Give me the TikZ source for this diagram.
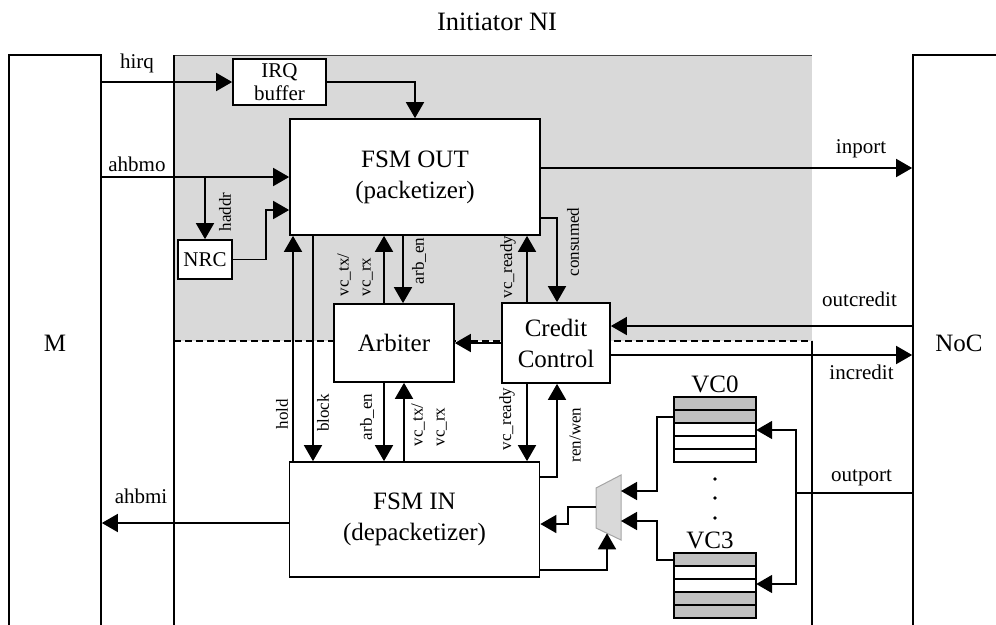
\documentclass[tikz,border=0pt]{standalone}
\usepackage{fontspec}
\setmainfont{Liberation Serif}
\usetikzlibrary{arrows.meta}
\definecolor{nigrey}{HTML}{D9D9D9}
\definecolor{vcgrey}{HTML}{C0C0C0}
\definecolor{muxedge}{HTML}{A6A6A6}
\newcommand\fbig{\fontsize{25}{31}\selectfont}
\newcommand\flab{\fontsize{21}{24}\selectfont}
\newcommand\frot{\fontsize{17}{22}\selectfont}
\begin{document}
\begin{tikzpicture}[x=1pt,y=-1pt,
  ln/.style={line width=1.7pt},
  arr/.style={ln,-{Triangle[length=16pt,width=18pt]}},
  blk/.style={draw,ln,fill=white,inner sep=0pt,align=center,font=\fbig},
  sblk/.style={draw,ln,fill=white,inner sep=0pt,align=center,font=\flab},
  lab/.style={inner sep=0pt,font=\flab,anchor=base},
  rlab/.style={inner sep=0pt,font=\frot,rotate=90,align=left},
]
\useasboundingbox (0,0) rectangle (996,624);
% NI region
\fill[nigrey] (174,55) rectangle (812,341);
\draw[line width=1pt,black!75] (174,55) -- (812,55);
\draw[ln] (174,55) -- (174,640);
\draw[ln] (812,341) -- (812,640);
\draw[ln,dash pattern=on 7pt off 4pt] (174,341) -- (812,341);

\node[lab,font=\fontsize{26.5}{31}\selectfont] (title) at (497,30) {Initiator NI};

% big side blocks
\node[blk,minimum width=92pt,minimum height=576pt] (m) at (55,343) {M};
\node[blk,minimum width=92pt,minimum height=576pt] (noc) at (959,343) {NoC};

% blocks
\node[sblk,minimum width=93pt,minimum height=46pt] (irq) at (279.5,82) {IRQ\\[-1pt]buffer};
\node[blk,minimum width=250pt,minimum height=116pt] (fsmout) at (415,177) {FSM OUT\\(packetizer)};
\node[sblk,minimum width=54pt,minimum height=39pt] (nrc) at (205,259.5) {NRC};
\node[blk,minimum width=120pt,minimum height=78pt] (arb) at (394,343) {Arbiter};
\node[blk,minimum width=108pt,minimum height=80pt] (cc) at (556,343) {Credit\\Control};
\node[blk,minimum width=250pt,minimum height=115pt] (fsmin) at (414.5,519.5) {FSM IN\\(depacketizer)};

% VC buffers
\node[inner sep=0pt,minimum width=82pt,minimum height=65pt] (vc0) at (715,429.5) {};
\node[inner sep=0pt,minimum width=82pt,minimum height=65pt] (vc3) at (715,585.5) {};
\foreach \i/\c in {0/vcgrey,1/vcgrey,2/white,3/white,4/white}
  \draw[ln,fill=\c] (674,{397+13*\i}) rectangle (756,{410+13*\i});
\foreach \i/\c in {0/vcgrey,1/white,2/white,3/vcgrey,4/vcgrey}
  \draw[ln,fill=\c] (674,{553+13*\i}) rectangle (756,{566+13*\i});
\node[lab,font=\fbig] (l-vc0) at (715,392) {VC0};
\node[lab,font=\fbig] (l-vc3) at (710,548) {VC3};
\foreach \yy in {479,498,518} \fill (715,\yy) circle (1.8pt);

% mux
\coordinate (mux-a) at (596,488);
\coordinate (mux-b) at (621,475);
\coordinate (mux-c) at (621,540);
\coordinate (mux-d) at (596,528);
\draw[muxedge,line width=1pt,fill=nigrey] (mux-a) -- (mux-b) -- (mux-c) -- (mux-d) -- cycle;
\coordinate (mi1) at (621,491);
\coordinate (mi2) at (621,521);
\coordinate (mo) at (596,507);
\coordinate (ms) at (607,533.3);

% connectors
\draw[arr] (m.east |- irq.west) -- (irq.west);
\draw[arr] (irq.east) -| (fsmout.north);
\draw[arr] (m.east |- fsmout.west) -- (fsmout.west);
\draw[arr] (nrc.north |- fsmout.west) -- (nrc.north);
\draw[arr] (nrc.east) -- (nrc.east -| 266,0) |- (fsmout.west |- 0,210);
\draw[arr] (fsmout.east |- 0,168) -- (noc.west |- 0,168);
\draw[arr] (fsmin.north -| 293,0) -- (fsmout.south -| 293,0);
\draw[arr] (fsmout.south -| 313,0) -- (fsmin.north -| 313,0);
\draw[arr] (arb.north -| 384,0) -- (fsmout.south -| 384,0);
\draw[arr] (fsmout.south -| 403,0) -- (arb.north -| 403,0);
\draw[arr] (arb.south -| 384,0) -- (fsmin.north -| 384,0);
\draw[arr] (fsmin.north -| 404,0) -- (arb.south -| 404,0);
\draw[arr] (cc.north -| 527,0) -- (fsmout.south -| 527,0);
\draw[arr] (fsmout.east |- 0,218) -| (cc.north -| 557,0);
\draw[arr] (cc.west) -- (arb.east);
\draw[arr] (cc.south -| 527,0) -- (fsmin.north -| 527,0);
\draw[arr] (fsmin.east |- 0,477) -| (cc.south -| 557,0);
\draw[arr] (noc.west |- 0,326) -- (cc.east |- 0,326);
\draw[arr] (cc.east |- 0,355) -- (noc.west |- 0,355);
\draw[arr] (fsmin.west |- 0,523) -- (m.east |- 0,523);
\coordinate (op) at (796,493);
\draw[arr] (noc.west |- op) -- (op) |- (vc0.east |- 0,430);
\draw[arr] (op) |- (vc3.east |- 0,584);
\draw[arr] (vc0.west |- 0,417) -- (657,417) |- (mi1);
\draw[arr] (vc3.west |- 0,560) -- (657,560) |- (mi2);
\draw[arr] (mo) -- (568,507) |- (fsmin.east |- 0,524);
\draw[arr] (fsmin.east |- 0,570) -| (ms);

% labels
\node[lab] (l-hirq) at (137,68) {hirq};
\node[lab] (l-ahbmo) at (137,171) {ahbmo};
\node[lab] (l-inport) at (861,153) {inport};
\node[lab] (l-outcredit) at (859.5,306) {outcredit};
\node[lab] (l-incredit) at (861.5,379) {incredit};
\node[lab] (l-outport) at (861.5,481) {outport};
\node[lab] (l-ahbmi) at (141,503) {ahbmi};
\node[rlab] (l-haddr) at (225,212) {haddr};
\node[rlab] (l-hold) at (282,414) {hold};
\node[rlab] (l-block) at (323,413) {block};
\node[rlab] (l-vctx1) at (355,275) {vc\_tx/\\vc\_rx};
\node[rlab] (l-arben1) at (419,261) {arb\_en};
\node[rlab] (l-vcr1) at (508,267) {vc\_ready};
\node[rlab] (l-cons) at (573,242) {consumed};
\node[rlab] (l-arben2) at (367,417) {arb\_en};
\node[rlab] (l-vctx2) at (429,425) {vc\_tx/\\vc\_rx};
\node[rlab] (l-vcr2) at (507,419) {vc\_ready};
\node[rlab] (l-renwen) at (575,435) {ren/wen};
\end{tikzpicture}
\end{document}
